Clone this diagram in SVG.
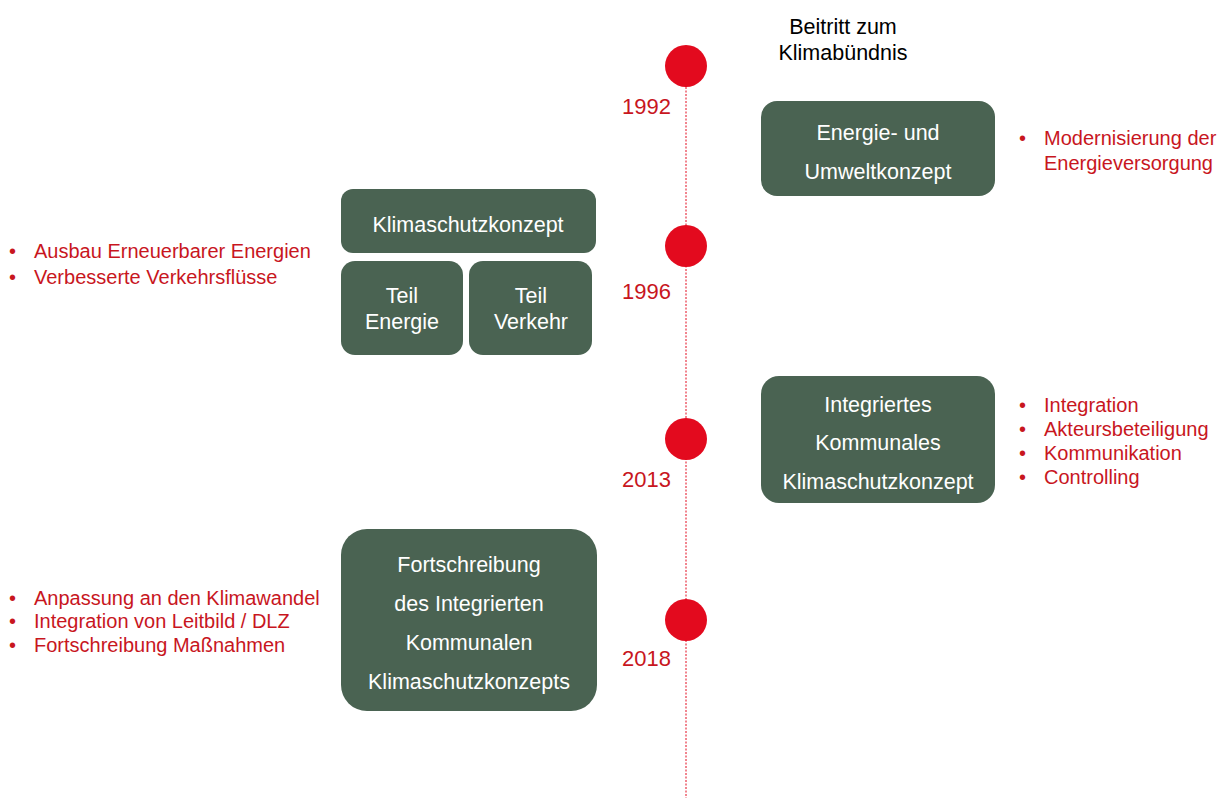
<svg xmlns="http://www.w3.org/2000/svg" width="1229" height="799" viewBox="0 0 1229 799">
<style>
.box{fill:#4a6352}
.bt{font-family:"Liberation Sans",Arial,sans-serif;font-size:21.5px;fill:#ffffff;text-anchor:middle}
.yr{font-family:"Liberation Sans",Arial,sans-serif;font-size:22px;fill:#c8161e}
.bl{font-family:"Liberation Sans",Arial,sans-serif;font-size:20px;fill:#c8161e}
.blk{font-family:"Liberation Sans",Arial,sans-serif;font-size:21.5px;fill:#000000;text-anchor:middle}
.dot{fill:#e30a1e}
</style>
<rect width="1229" height="799" fill="#ffffff"/>
<g id="connectors">
<line x1="686" y1="66" x2="686" y2="798" stroke="#e30a1e" stroke-width="1" stroke-dasharray="2,1.5"/>
</g>
<g id="m1992">
<circle class="dot" cx="686" cy="66" r="21"/>
<text class="yr" x="622" y="114">1992</text>
<text class="blk" x="843" y="34">Beitritt zum</text>
<text class="blk" x="843" y="60">Klimabündnis</text>
</g>
<g id="m1996">
<circle class="dot" cx="686" cy="246" r="21"/>
<text class="yr" x="622" y="299">1996</text>
</g>
<g id="m2013">
<circle class="dot" cx="686" cy="439" r="21"/>
<text class="yr" x="622" y="487">2013</text>
</g>
<g id="m2018">
<circle class="dot" cx="686" cy="620" r="21"/>
<text class="yr" x="622" y="666">2018</text>
</g>
<g id="energie-umwelt">
<rect class="box" x="761" y="101" width="234" height="95" rx="16"/>
<text class="bt" x="878" y="140">Energie- und</text>
<text class="bt" x="878" y="179">Umweltkonzept</text>
</g>
<g id="klimaschutzkonzept">
<rect class="box" x="341" y="189" width="255" height="64" rx="12"/>
<text class="bt" x="468" y="232">Klimaschutzkonzept</text>
</g>
<g id="teil-energie">
<rect class="box" x="341" y="261" width="122" height="94" rx="14"/>
<text class="bt" x="402" y="303">Teil</text>
<text class="bt" x="402" y="329">Energie</text>
</g>
<g id="teil-verkehr">
<rect class="box" x="469" y="261" width="123" height="94" rx="14"/>
<text class="bt" x="531" y="303">Teil</text>
<text class="bt" x="531" y="329">Verkehr</text>
</g>
<g id="ikk">
<rect class="box" x="761" y="376" width="234" height="127" rx="18"/>
<text class="bt" x="878" y="412">Integriertes</text>
<text class="bt" x="878" y="450">Kommunales</text>
<text class="bt" x="878" y="489">Klimaschutzkonzept</text>
</g>
<g id="fortschreibung">
<rect class="box" x="341" y="529" width="256" height="182" rx="26"/>
<text class="bt" x="469" y="572">Fortschreibung</text>
<text class="bt" x="469" y="611">des Integrierten</text>
<text class="bt" x="469" y="650">Kommunalen</text>
<text class="bt" x="469" y="689">Klimaschutzkonzepts</text>
</g>
<g id="bullets-1992">
<text class="bl" x="1019" y="145">•</text><text class="bl" x="1044" y="145">Modernisierung der</text>
<text class="bl" x="1044" y="170">Energieversorgung</text>
</g>
<g id="bullets-1996">
<text class="bl" x="9" y="258">•</text><text class="bl" x="34" y="258">Ausbau Erneuerbarer Energien</text>
<text class="bl" x="9" y="284">•</text><text class="bl" x="34" y="284">Verbesserte Verkehrsflüsse</text>
</g>
<g id="bullets-2013">
<text class="bl" x="1019" y="412">•</text><text class="bl" x="1044" y="412">Integration</text>
<text class="bl" x="1019" y="436">•</text><text class="bl" x="1044" y="436">Akteursbeteiligung</text>
<text class="bl" x="1019" y="460">•</text><text class="bl" x="1044" y="460">Kommunikation</text>
<text class="bl" x="1019" y="484">•</text><text class="bl" x="1044" y="484">Controlling</text>
</g>
<g id="bullets-2018">
<text class="bl" x="9" y="605">•</text><text class="bl" x="34" y="605">Anpassung an den Klimawandel</text>
<text class="bl" x="9" y="628">•</text><text class="bl" x="34" y="628">Integration von Leitbild / DLZ</text>
<text class="bl" x="9" y="652">•</text><text class="bl" x="34" y="652">Fortschreibung Maßnahmen</text>
</g>
</svg>
